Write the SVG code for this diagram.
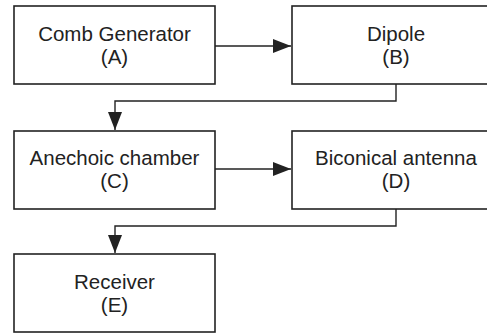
<svg xmlns="http://www.w3.org/2000/svg" width="487" height="333" viewBox="0 0 487 333">
<style>
.box{fill:#fff;stroke:#222;stroke-width:1.6}
.lbl{font-family:"Liberation Sans",Arial,sans-serif;font-size:20.5px;fill:#222;text-anchor:middle}
.con{fill:none;stroke:#222;stroke-width:1.4}
</style>
<defs>
<marker id="ah" markerUnits="userSpaceOnUse" markerWidth="18" markerHeight="14" refX="18" refY="7" orient="auto">
<path d="M0,0 L18,7 L0,14 Z" fill="#222"/>
</marker>
</defs>
<rect width="487" height="333" fill="#fff"/>
<g id="A">
<rect class="box" x="14" y="6" width="201" height="78"/>
<text class="lbl" x="114.5" y="41">Comb Generator</text>
<text class="lbl" x="114.5" y="64">(A)</text>
</g>
<g id="B">
<rect class="box" x="292" y="6" width="205" height="78"/>
<text class="lbl" x="396" y="41">Dipole</text>
<text class="lbl" x="396" y="64">(B)</text>
</g>
<g id="C">
<rect class="box" x="14" y="131" width="201" height="78"/>
<text class="lbl" x="114.5" y="165">Anechoic chamber</text>
<text class="lbl" x="114.5" y="188">(C)</text>
</g>
<g id="D">
<rect class="box" x="292" y="131" width="205" height="78"/>
<text class="lbl" x="396" y="165">Biconical antenna</text>
<text class="lbl" x="396" y="188">(D)</text>
</g>
<g id="E">
<rect class="box" x="14" y="254" width="201" height="78"/>
<text class="lbl" x="114.5" y="289">Receiver</text>
<text class="lbl" x="114.5" y="312">(E)</text>
</g>
<g id="connectors">
<path class="con" d="M215,46 H291" marker-end="url(#ah)"/>
<path class="con" d="M396,84 V101 H115 V130" marker-end="url(#ah)"/>
<path class="con" d="M215,169 H291" marker-end="url(#ah)"/>
<path class="con" d="M396,209 V226 H115 V253" marker-end="url(#ah)"/>
</g>
</svg>
